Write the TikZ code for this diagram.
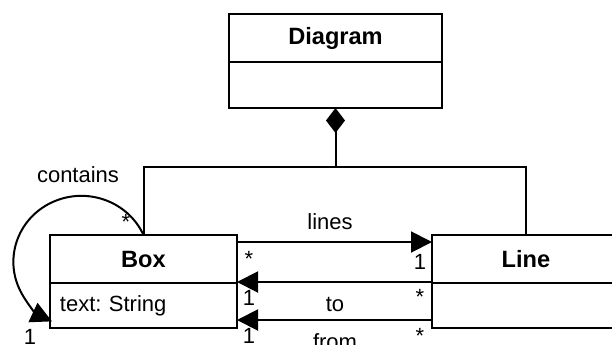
\documentclass[tikz,border=0pt]{standalone}
\usepackage{fontspec}
\setmainfont{Liberation Sans}
\usetikzlibrary{arrows.meta,calc}
\begin{document}
\frenchspacing
\begin{tikzpicture}[x=0.5pt,y=-0.5pt,line width=1pt,
  font=\fontsize{11}{13}\selectfont\frenchspacing,
  cls/.style={draw,rectangle,inner sep=0pt,outer sep=0pt,anchor=north},
  title/.style={cls,font=\fontsize{11.8}{14}\selectfont\bfseries},
  attr/.style={draw,rectangle,inner sep=0pt,outer sep=0pt,inner xsep=5pt,anchor=north,align=left},
  arr/.style={-{Triangle[length=10.5pt,width=10.5pt]}},
  lbl/.style={inner sep=0pt}]
\useasboundingbox (0,0) rectangle (612,344);
\clip (0,0) rectangle (612,344);
% classes
\node[title,minimum width=106.5pt,minimum height=24pt] (diag) at (335.5,14) {Diagram};
\node[cls,minimum width=106.5pt,minimum height=23pt] (diagattr) at (diag.south) {};
\node[title,minimum width=93.5pt,minimum height=24pt] (box) at (143.5,235) {Box};
\node[attr,text width=83.5pt,minimum height=22.5pt] (boxattr) at (box.south) {text: String};
\node[title,minimum width=94pt,minimum height=24pt] (line) at (526,235) {Line};
\node[cls,minimum width=94pt,minimum height=22.5pt] (lineattr) at (line.south) {};
% composition
\coordinate (j) at (335.5,167);
\draw[{Diamond[length=12.5pt,width=9.5pt]}-] (diagattr.south) -- (j);
\draw (box.north) |- (j) -| (line.north);
% self loop
\draw[arr] (box.north) arc[start angle=24,end angle=244.4,x radius=34pt,y radius=33pt];
\node[lbl] (lcont) at (78,175) {contains};
\node[lbl] (lcstar) at (126,222) {*};
\node[lbl] (lcone) at (30,337) {1};
% associations
\draw[arr] ($(box.north east)+(0,7)$) -- ($(line.north west)+(0,7)$);
\draw[arr] ($(line.north west)+(0,47)$) -- ($(box.north east)+(0,47)$);
\draw[arr] ($(line.north west)+(0,85)$) -- ($(box.north east)+(0,85)$);
\node[lbl] (llines) at (330,222) {lines};
\node[lbl] (llstar) at (249,259) {*};
\node[lbl] (llone) at (420,262) {1};
\node[lbl] (lto) at (335,304) {to};
\node[lbl] (ltone) at (249,298) {1};
\node[lbl] (ltstar) at (420,297) {*};
\node[lbl] (lfrom) at (335,342) {from};
\node[lbl] (lfone) at (249,336) {1};
\node[lbl] (lfstar) at (420,336) {*};
\end{tikzpicture}
\end{document}
